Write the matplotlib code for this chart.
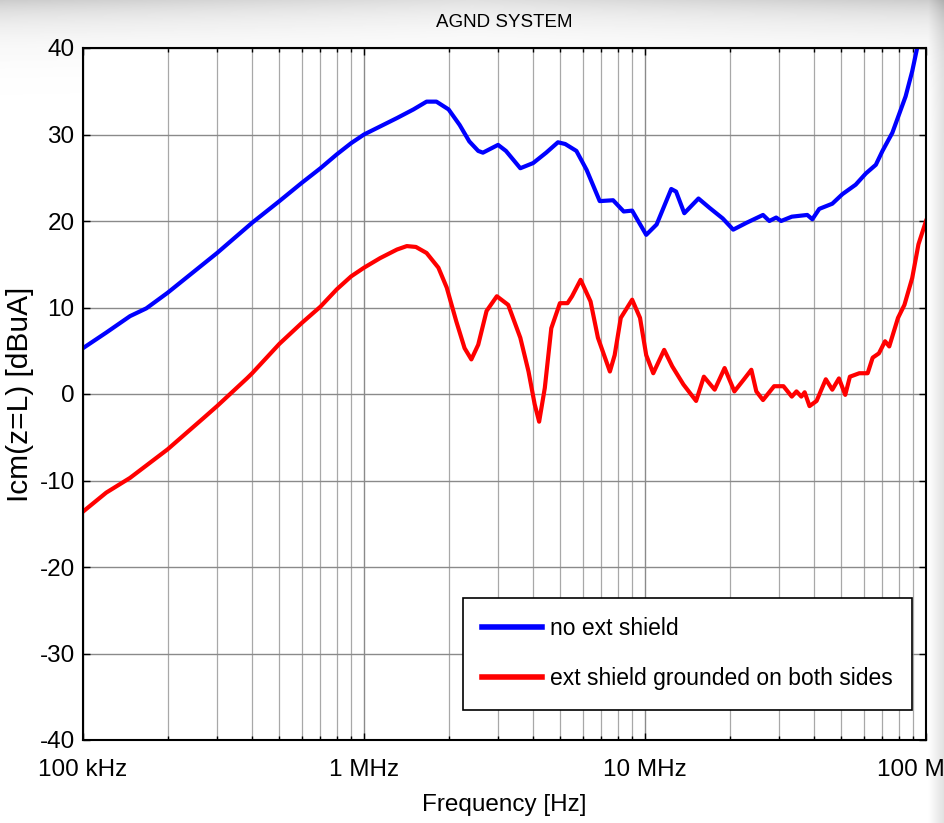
#!/usr/bin/env python3

import numpy as np

import matplotlib
matplotlib.use("Agg")
import matplotlib.pyplot as plt
from matplotlib import font_manager
from matplotlib.ticker import LogLocator, FixedLocator

# no ext shield (blue)
blue_f = [100e3, 121e3, 147e3, 168e3, 200e3, 300e3, 400e3, 500e3, 600e3, 700e3,
          800e3, 900e3, 1.0e6, 1.31e6, 1.5e6, 1.67e6, 1.81e6, 2.0e6, 2.19e6, 2.37e6,
          2.55e6, 2.65e6, 2.8e6, 3.0e6, 3.2e6, 3.6e6, 4.0e6, 4.45e6, 4.9e6, 5.2e6,
          5.7e6, 6.2e6, 6.9e6, 7.7e6, 8.4e6, 9.0e6, 10.1e6, 11.0e6, 12.4e6, 12.9e6,
          13.8e6, 15.5e6, 17.0e6, 18.9e6, 20.6e6, 23.0e6, 26.3e6, 27.7e6, 29.3e6, 30.5e6,
          33.3e6, 37.8e6, 39.4e6, 41.7e6, 46.4e6, 50.4e6, 56.2e6, 61.1e6, 66.3e6, 70.0e6,
          75.9e6, 84.6e6, 89.3e6, 93e6, 97e6]
blue_db = [5.3, 7.1, 9.0, 9.9, 11.7, 16.3, 19.8, 22.3, 24.4, 26.1,
           27.7, 29.0, 30.0, 31.9, 32.9, 33.8, 33.8, 32.9, 31.1, 29.2,
           28.1, 27.9, 28.3, 28.8, 28.1, 26.1, 26.7, 27.9, 29.1, 28.9,
           28.1, 25.9, 22.3, 22.4, 21.1, 21.2, 18.4, 19.6, 23.7, 23.4,
           20.9, 22.6, 21.5, 20.3, 19.0, 19.8, 20.7, 20.0, 20.4, 20.0,
           20.5, 20.7, 20.2, 21.4, 22.0, 23.1, 24.2, 25.5, 26.5, 28.1,
           30.2, 34.4, 37.3, 40.0, 42.5]

# ext shield grounded on both sides (red)
red_f = [100e3, 121e3, 147e3, 200e3, 268e3, 300e3, 383e3, 400e3, 500e3, 600e3,
         700e3, 800e3, 900e3, 1.0e6, 1.14e6, 1.31e6, 1.42e6, 1.53e6, 1.67e6, 1.84e6,
         1.97e6, 2.13e6, 2.28e6, 2.41e6, 2.55e6, 2.73e6, 2.97e6, 3.26e6, 3.6e6, 3.85e6,
         4.05e6, 4.2e6, 4.4e6, 4.64e6, 4.98e6, 5.3e6, 5.5e6, 5.9e6, 6.4e6, 6.8e6,
         7.5e6, 7.8e6, 8.2e6, 9.0e6, 9.6e6, 10.1e6, 10.7e6, 11.7e6, 12.5e6, 13.7e6,
         15.2e6, 16.2e6, 17.7e6, 19.2e6, 20.8e6, 22.5e6, 23.9e6, 24.9e6, 26.3e6, 28.8e6,
         31.1e6, 33.3e6, 34.6e6, 36e6, 37e6, 38.5e6, 40.8e6, 44.0e6, 46.4e6, 49e6,
         51.6e6, 53.6e6, 57.9e6, 62.0e6, 64.6e6, 68e6, 71.5e6, 74e6, 79.5e6, 83.8e6,
         89.3e6, 94e6, 100e6]
red_db = [-13.6, -11.4, -9.7, -6.4, -2.8, -1.4, 1.8, 2.4, 5.8, 8.2,
          10.1, 12.1, 13.6, 14.6, 15.7, 16.7, 17.1, 17.0, 16.3, 14.6,
          12.3, 8.4, 5.3, 4.0, 5.7, 9.6, 11.3, 10.3, 6.5, 2.6,
          -1.2, -3.2, 0.7, 7.6, 10.5, 10.5, 11.3, 13.2, 10.7, 6.5,
          2.6, 4.5, 8.8, 10.9, 8.8, 4.5, 2.4, 5.1, 3.2, 1.1,
          -0.8, 2.0, 0.5, 3.0, 0.3, 1.7, 2.8, 0.3, -0.7, 0.9,
          0.9, -0.3, 0.3, -0.3, 0.2, -1.4, -0.8, 1.7, 0.5, 1.8,
          -0.1, 2.0, 2.4, 2.4, 4.2, 4.7, 6.1, 5.5, 8.8, 10.3,
          13.4, 17.3, 20.0]

x_ticks = [1e5, 1e6, 1e7, 1e8]
x_ticklabels = ["100 kHz", "1 MHz", "10 MHz", "100 MHz"]
y_ticks = [-40, -30, -20, -10, 0, 10, 20, 30, 40]


def has_font(name):
    try:
        font_manager.findfont(font_manager.FontProperties(family=name),
                              fallback_to_default=False)
        return True
    except Exception:
        return False


if has_font("Liberation Sans Narrow"):
    narrow = "Liberation Sans Narrow"
    fs = 20
    leg_fs = 20
else:
    narrow = "Liberation Sans"
    fs = 17.5
    leg_fs = 16.5

plt.rcParams["font.family"] = narrow

fig = plt.figure(figsize=(9.44, 8.23), dpi=100)

# grey gradient behind the figure (top band and right strip)
bg = fig.add_axes([0, 0, 1, 1], zorder=-10)
yy, xx = np.mgrid[0:823, 0:944]
shade = 1 - 0.2 * np.exp(-yy / 24.0) * (0.6 + 0.4 * np.abs(xx - 472) / 472)
shade -= 0.12 * np.clip((xx - 928) / 16.0, 0, 1)
bg.imshow(shade, cmap="gray", vmin=0, vmax=1, aspect="auto",
          extent=[0, 1, 0, 1], interpolation="bilinear")
bg.axis("off")

ax = fig.add_axes([83 / 944, 1 - 740 / 823, 843 / 944, 692 / 823])

ax.plot(blue_f, blue_db, color="#0000ff", lw=3, label="no ext shield")
ax.plot(red_f, red_db, color="#ff0000", lw=3,
        label="ext shield grounded on both sides")

ax.set_xscale("log")
ax.set_xlim(1e5, 1e8)
ax.set_ylim(-40, 40)
ax.xaxis.set_major_locator(FixedLocator(x_ticks))
ax.set_xticklabels(x_ticklabels)
ax.xaxis.set_minor_locator(LogLocator(base=10, subs=np.arange(2, 10)))
ax.xaxis.set_minor_formatter(plt.NullFormatter())
ax.set_yticks(y_ticks)
ax.set_yticklabels([str(v) for v in y_ticks])

ax.grid(True, which="major", axis="both", color="#8a8a8a", lw=1.0)
ax.grid(True, which="minor", axis="x", color="#a8a8a8", lw=0.9)

ax.tick_params(which="both", direction="in", top=True, right=True,
               labelsize=fs, color="black")
ax.tick_params(which="major", length=5, width=1)
ax.tick_params(which="minor", length=3, width=1)
ax.tick_params(axis="x", which="major", pad=14)
ax.tick_params(axis="y", which="major", pad=6)
for s in ax.spines.values():
    s.set_linewidth(1.5)

ax.set_title("AGND SYSTEM", fontsize=13.5, pad=15)
ax.set_xlabel("Frequency [Hz]", fontsize=fs, labelpad=9)
ax.set_ylabel("Icm(z=L) [dBuA]", fontsize=21.5, family="Liberation Sans",
              labelpad=4)

leg = ax.legend(loc="lower right", bbox_to_anchor=(0.9834, 0.0434),
                borderaxespad=0, fontsize=leg_fs, fancybox=False, framealpha=1,
                edgecolor="black", handlelength=2.6, handletextpad=0.35,
                labelspacing=1.2, borderpad=0.85)
leg.get_frame().set_linewidth(1.2)
for line in leg.get_lines():
    line.set_linewidth(4)

fig.savefig("out.png", dpi=100)
